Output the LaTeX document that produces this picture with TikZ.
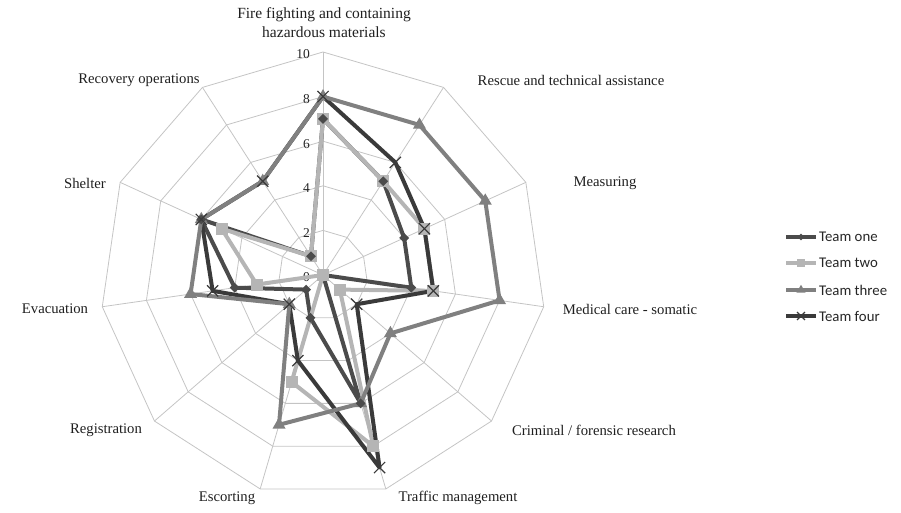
\documentclass[tikz,border=0pt]{standalone}
\usepackage{fontspec}
\setmainfont{Liberation Serif}
\newfontfamily\legendfont{Carlito}
\usetikzlibrary{shapes.geometric,shapes.misc}

\definecolor{gridgray}{HTML}{C4C4C4}
\definecolor{oneclr}{HTML}{4B4B4B}
\definecolor{twoclr}{HTML}{B5B5B5}
\definecolor{threeclr}{HTML}{808080}
\definecolor{fourclr}{HTML}{3A3A3A}

% data, clockwise from the top axis
\def\teamone{7,5,4,4,0,6,2,1,4,6,1}
\def\teamtwo{7,5,5,5,1,8,5,0,3,5,1}
\def\teamthree{8,8,8,8,4,6,7,2,6,6,5}
\def\teamfour{8,6,5,5,2,9,4,2,5,6,5}

% one named coordinate per axis value: #1 prefix, #2 values
\newcommand\seriespoints[2]{%
  \foreach \v [count=\k from 0] in #2 {%
    \coordinate (#1\k) at (\k*360/11-90:\v*22.3);
  }%
}
\newcommand\seriespath[1]{(#10) -- (#11) -- (#12) -- (#13) -- (#14) -- (#15) -- (#16) -- (#17) -- (#18) -- (#19) -- (#110) -- cycle}

\begin{document}
\begin{tikzpicture}[x=1pt,y=-1pt,
  gridline/.style={draw=gridgray, line width=0.8pt},
  serline/.style={line width=4pt, line join=round, line cap=round},
  axislabel/.style={font=\fontsize{14.7}{19}\selectfont, inner sep=0pt, text=black!88},
  titlelabel/.style={font=\fontsize{15.5}{19}\selectfont, inner sep=0pt, text=black!88, align=center},
  ticklabel/.style={font=\fontsize{13.5}{14}\selectfont, anchor=east, inner sep=0pt, text=black!85},
  legendlabel/.style={font=\legendfont\fontsize{14.8}{16}\selectfont, anchor=west, inner sep=0pt, text=black!85},
  mkone/.style={diamond, fill=oneclr, minimum size=10pt, inner sep=0pt},
  mktwo/.style={rectangle, fill=twoclr, minimum size=12pt, inner sep=0pt},
  mkthree/.style={regular polygon, regular polygon sides=3, fill=threeclr, minimum size=15pt, inner sep=0pt},
  mkfour/.style={cross out, draw=fourclr, line width=1.2pt, minimum size=10pt, inner sep=0pt},
]
\useasboundingbox (0,0) rectangle (901,513);

\begin{scope}[shift={(323,275)}]
  % spider web: rings every 2 units and the eleven spokes
  \foreach \r in {2,4,6,8,10} {
    \draw[gridline] (-90:\r*22.3) \foreach \k in {1,...,10} { -- (\k*360/11-90:\r*22.3) } -- cycle;
  }
  \coordinate (centre) at (0,0);
  \foreach \k in {0,...,10} {
    \coordinate (rim\k) at (\k*360/11-90:10*22.3);
    \draw[gridline] (centre) -- (rim\k);
  }

  % scale on the top axis
  \foreach \r in {0,2,4,6,8,10} {
    \node[ticklabel] (tick\r) at (-13,-\r*22.3+2.5) {\r};
  }

  % series points
  \seriespoints{a}{\teamone}
  \seriespoints{b}{\teamtwo}
  \seriespoints{c}{\teamthree}
  \seriespoints{d}{\teamfour}

  % series outlines
  \draw[serline, oneclr] \seriespath{a};
  \draw[serline, twoclr] \seriespath{b};
  \draw[serline, fourclr] \seriespath{d};
  \draw[serline, threeclr] \seriespath{c};

  % markers
  \foreach \k in {0,...,10} {
    \node[mktwo] (mb\k) at (b\k) {};
    \node[mkthree] (mc\k) at (c\k) {};
    \node[mkone] (ma\k) at (a\k) {};
    \node[mkfour] (md\k) at (d\k) {};
  }
\end{scope}

% axis labels
\node[titlelabel] (lfire) at (324,23) {Fire fighting and containing\\hazardous materials};
\node[axislabel] (lrescue) at (571,80) {Rescue and technical assistance};
\node[axislabel] (lmeas) at (605,183) {Measuring};
\node[axislabel] (lmed) at (630,309) {Medical care - somatic};
\node[axislabel] (lcrim) at (594,430) {Criminal / forensic research};
\node[axislabel] (ltraf) at (458,498) {Traffic management};
\node[axislabel] (lesc) at (227,498) {Escorting};
\node[axislabel] (lreg) at (106,430) {Registration};
\node[axislabel] (levac) at (55,309) {Evacuation};
\node[axislabel] (lshel) at (85,183) {Shelter};
\node[axislabel] (lrec) at (139,80) {Recovery operations};

% legend
\foreach \name/\clr/\mk/\y [count=\i] in {Team one/oneclr/mkone/237, Team two/twoclr/mktwo/263, Team three/threeclr/mkthree/290, Team four/fourclr/mkfour/316} {
  \coordinate (lgs\i) at (786,\y);
  \coordinate (lge\i) at (816,\y);
  \draw[line width=3.6pt, \clr] (lgs\i) -- (lge\i);
  \node[\mk, scale=0.7] (lgm\i) at (801,\y) {};
  \node[legendlabel] (lgt\i) at (819,\y) {\name};
}
\end{tikzpicture}
\end{document}
